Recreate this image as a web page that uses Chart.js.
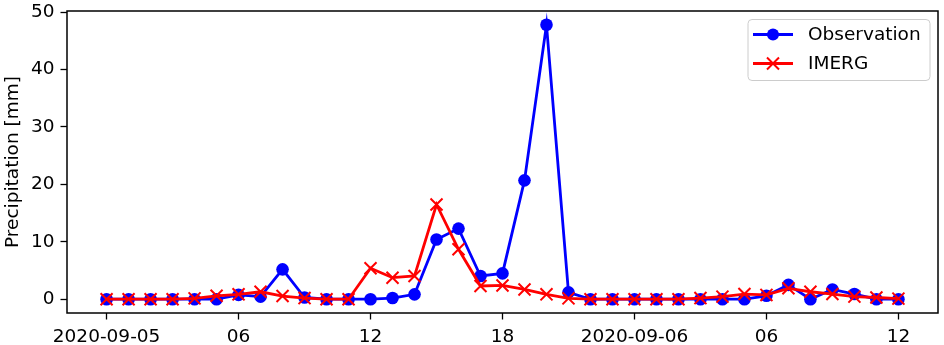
<!DOCTYPE html>
<html>
<head>
<meta charset="utf-8">
<script src="https://cdn.jsdelivr.net/npm/chart.js@4/dist/chart.umd.min.js"></script>
<style>
html,body{margin:0;padding:0;background:#fff;}
#wrap{width:944px;height:345px;position:relative;}
</style>
</head>
<body>
<div id="wrap"><canvas id="c" width="944" height="345"></canvas></div>
<script>
// hourly steps from 2020-09-05 00:00 to 2020-09-06 12:00
const hours = [0,1,2,3,4,5,6,7,8,9,10,11,12,13,14,15,16,17,18,19,20,21,22,23,24,25,26,27,28,29,30,31,32,33,34,35,36];
const observation = [0,0,0,0,0,0,0.75,0.45,5.2,0.3,0,0,0,0.2,0.85,10.4,12.3,4.05,4.5,20.7,47.8,1.2,0,0,0,0,0,0,0,0,0.6,2.5,0,1.7,0.9,0,0];
const imerg = [0,0,0,0,0.15,0.6,0.85,1.3,0.55,0.2,0,0,5.4,3.75,4.05,16.5,8.7,2.3,2.4,1.7,0.85,0.15,0,0,0,0,0,0.2,0.45,0.9,0.75,1.9,1.3,0.9,0.45,0.3,0.1];
const xTickPositions = [0,6,12,18,24,30,36];
const xTickLabels = ['2020-09-05','06','12','18','2020-09-06','06','12'];
const yTickPositions = [0,10,20,30,40,50];

const FONT = 'DejaVu Sans';

const framePlugin = {
  id: 'frame',
  afterDraw(chart) {
    const {ctx, chartArea: a} = chart;
    ctx.save();
    ctx.strokeStyle = '#000';
    ctx.lineWidth = 1.5;
    ctx.strokeRect(a.left, a.top, a.right - a.left, a.bottom - a.top);
    // y-axis title
    ctx.fillStyle = '#000';
    ctx.font = '18.5px "' + FONT + '"';
    ctx.textAlign = 'center';
    ctx.textBaseline = 'middle';
    ctx.translate(13, (a.top + a.bottom) / 2);
    ctx.rotate(-Math.PI / 2);
    ctx.fillText('Precipitation [mm]', 0, 0);
    ctx.restore();

    // legend
    ctx.save();
    const lx = 748, ly = 19.5, lw = 182, lh = 61, r = 4;
    ctx.beginPath();
    ctx.moveTo(lx + r, ly);
    ctx.arcTo(lx + lw, ly, lx + lw, ly + lh, r);
    ctx.arcTo(lx + lw, ly + lh, lx, ly + lh, r);
    ctx.arcTo(lx, ly + lh, lx, ly, r);
    ctx.arcTo(lx, ly, lx + lw, ly, r);
    ctx.closePath();
    ctx.fillStyle = 'rgba(255,255,255,0.8)';
    ctx.fill();
    ctx.strokeStyle = '#cccccc';
    ctx.lineWidth = 1;
    ctx.stroke();
    const rows = [
      {label: 'Observation', color: '#0000ff', y: 34.5, style: 'circle'},
      {label: 'IMERG', color: '#ff0000', y: 63.5, style: 'x'}
    ];
    rows.forEach(row => {
      ctx.strokeStyle = row.color;
      ctx.lineWidth = 2.8;
      ctx.beginPath();
      ctx.moveTo(753, row.y);
      ctx.lineTo(793, row.y);
      ctx.stroke();
      if (row.style === 'circle') {
        ctx.fillStyle = row.color;
        ctx.beginPath();
        ctx.arc(773, row.y, 6, 0, Math.PI * 2);
        ctx.fill();
      } else {
        const d = 6;
        ctx.lineWidth = 2;
        ctx.beginPath();
        ctx.moveTo(773 - d, row.y - d); ctx.lineTo(773 + d, row.y + d);
        ctx.moveTo(773 - d, row.y + d); ctx.lineTo(773 + d, row.y - d);
        ctx.stroke();
      }
      ctx.fillStyle = '#000';
      ctx.font = '18.5px "' + FONT + '"';
      ctx.textAlign = 'left';
      ctx.textBaseline = 'middle';
      ctx.fillText(row.label, 808, row.y + 1);
    });
    ctx.restore();
  }
};

function noOverflow(scale) {
  scale.paddingTop = 0; scale.paddingBottom = 0;
  scale.paddingLeft = 0; scale.paddingRight = 0;
}

const obsData = hours.map((h, i) => ({x: h, y: observation[i]}));
const imData = hours.map((h, i) => ({x: h, y: imerg[i]}));

new Chart(document.getElementById('c'), {
  type: 'line',
  data: {
    datasets: [
      {
        label: 'Observation',
        data: obsData,
        borderColor: '#0000ff',
        backgroundColor: '#0000ff',
        borderWidth: 2.8,
        pointStyle: 'circle',
        pointRadius: 6.3,
        pointBorderWidth: 0,
        pointBackgroundColor: '#0000ff',
        tension: 0,
        order: 1
      },
      {
        label: 'IMERG',
        data: imData,
        borderColor: '#ff0000',
        backgroundColor: '#ff0000',
        borderWidth: 2.8,
        pointStyle: 'crossRot',
        pointRadius: 8.5,
        pointBorderWidth: 2,
        pointBorderColor: '#ff0000',
        tension: 0,
        order: 0
      }
    ]
  },
  options: {
    responsive: false,
    animation: false,
    devicePixelRatio: 1,
    layout: {autoPadding: false, padding: {top: 11, right: 6, left: 0, bottom: 0}},
    plugins: {legend: {display: false}, tooltip: {enabled: false}},
    scales: {
      x: {
        type: 'linear',
        min: -1.8,
        max: 37.8,
        afterBuildTicks(scale) { scale.ticks = xTickPositions.map(v => ({value: v})); },
        afterFit(scale) { scale.height = 32; noOverflow(scale); },
        grid: {drawOnChartArea: false, tickLength: 6.5, tickColor: '#000', tickWidth: 1.3},
        border: {display: false},
        ticks: {
          autoSkip: false, maxRotation: 0, minRotation: 0, padding: 7,
          color: '#000', font: {family: FONT, size: 18.5},
          callback(v) { const i = xTickPositions.indexOf(v); return i >= 0 ? xTickLabels[i] : ''; }
        }
      },
      y: {
        type: 'linear',
        min: -2.4,
        max: 50.2,
        afterBuildTicks(scale) { scale.ticks = yTickPositions.map(v => ({value: v})); },
        afterFit(scale) { scale.width = 67; noOverflow(scale); },
        grid: {drawOnChartArea: false, tickLength: 6.5, tickColor: '#000', tickWidth: 1.3},
        border: {display: false},
        ticks: {
          padding: 6, color: '#000', font: {family: FONT, size: 18.5},
          callback(v) { return String(v); }
        }
      }
    }
  },
  plugins: [framePlugin]
});
</script>
</body>
</html>
